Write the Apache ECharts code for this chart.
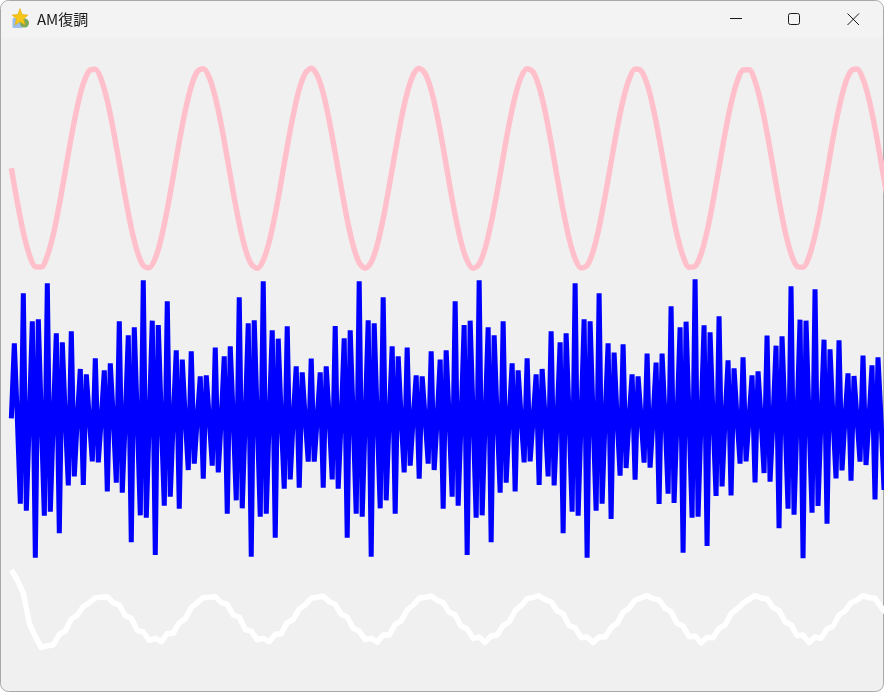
<!DOCTYPE html>
<html>
<head>
<meta charset="utf-8">
<title>AM復調</title>
<style>html,body{margin:0;padding:0;background:#fff;overflow:hidden}#c{width:884px;height:692px}</style>
<script src="https://cdn.jsdelivr.net/npm/echarts@6/dist/echarts.min.js"></script>
</head>
<body>
<div id="c"></div>
<script>
const windowTitle = 'AM復調';

// Carrier signal (pink), one reading every 2nd sample
const pinkStep = 2;
const pinkValues = [
0,-102,-192,-259,-295,-296,-262,-198,-109,-8,94,185,254,293,297,266,203,116,16,-87,-179,-250,-292,-298,-270,-209,-123,-23,80,173,246,290,299,273,214,131,31,
-72,-166,-241,-287,-300,-276,-220,-138,-39,65,160,237,285,300,279,225,144,46,-57,-154,-232,-283,-300,-282,-230,-151,-54,49,147,227,280,300,284,235,158,62,
-42,-140,-222,-277,-300,-287,-240,-164,-70,34,133,216,274,299,289,244,171,77,-26,-126,-211,-271,-299,-291,-249,-177,-84,18,119,205,267,298,293,253,183,92,
-10,-112,-200,-264,-297,-294,-257,-189,-99,3,105,194,260,295,296,261,195,107,5,-97,-188,-256,-294,-297,-265,-201,-114,-13,90,181,252,292,298,268,207,121,20,-83
];

// Modulated signal (blue), one reading per sample
const blueValues = [
0,225,0,-256,375,-277,0,291,-418,297,0,-292,405,-280,0,255,-345,228,0,-201,261,-174,0,148,-200,132,0,-129,180,-132,0,144,-219,165,0,-193,291,-223,0,249,-372,273,0,-291,414,-298,0,
293,-410,280,0,-262,351,-235,0,204,-271,176,0,-155,201,-136,0,126,-181,129,0,-142,212,-162,0,186,-286,216,0,-246,363,-270,0,285,-415,294,0,-295,411,-286,0,264,-358,239,0,-211,276,-183,0,156,-208,
138,0,-130,179,-130,0,138,-208,156,0,-183,277,-211,0,240,-358,264,0,-286,411,-295,0,294,-415,285,0,-270,363,-246,0,216,-286,186,0,-162,212,-142,0,129,-181,126,0,-136,201,-155,0,176,-271,204,0,
-235,351,-262,0,280,-410,293,0,-298,414,-291,0,273,-372,249,0,-223,291,-193,0,165,-219,144,0,-132,180,-129,0,132,-200,148,0,-174,261,-201,0,228,-345,255,0,-280,405,-292,0,297,-418,291,0,-277,375,
-256,0,225,-302,197,0,-172,222,-149,0,132,-184,126,0,-133,194,-148,0,167,-257,194,0,-226,336,-254,0,273,-403,290,0,-298,417,-295,0,279,-383,258,0,-233,306,-204,0,174,-231,150,0,-136,183,-129,0,
129,-192,141,0,-164,248,-190,0,218,-330,246,0,-271,396,-289,0,296,-420,293,0,-283,387,-263,0,236,-316,207,0,-180,234,-156,0,135,-187,127,0,-130,188,-140,0,159,-243,183,0,-215
];

// Demodulated signal (white), one reading every 2nd sample
const whiteStep = 2;
const whiteValues = [
147,117,77,-13,-53,-86,-80,-78,-46,-36,0,12,37,49,64,65,67,49,42,10,2,-34,-39,-64,-58,-68,-44,-42,-11,1,34,49,64,65,67,49,44,12,6,-32,-36,-62,-58,-68,-46,-44,-11,-1,30,
42,62,65,68,52,44,14,6,-28,-36,-62,-58,-70,-48,-48,-16,-6,27,42,62,65,69,56,49,20,12,-22,-30,-58,-54,-70,-51,-48,-20,-9,25,40,61,65,70,58,51,25,16,-20,-26,-56,-54,-70,
-54,-54,-26,-13,20,32,57,63,70,61,57,32,22,-13,-21,-53,-51,-72,-55,-56,-28,-18,16,30,47,59,70,63,60,35,25,-8,-17,-50,-48,-71,-54,-58,-30,-22,12,24,49,57,70,64,62,36,17
];

const withIndex = (vals, step) => vals.map((v, i) => [i * step, v]);
const xAxisFor = i => ({type:'value', gridIndex:i, min:0, max:291, show:false});

const chart = echarts.init(document.getElementById('c'), null, {renderer:'canvas'});
const star = [[20,8.5],[22.2,14.5],[28,15],[23.6,19],[25,25],[20,21.8],[15,25],[16.4,19],[12,15],[17.8,14.5]];

chart.setOption({
  animation:false,
  backgroundColor:'#ffffff',
  title:{text:windowTitle, left:37, top:12, padding:0,
    textStyle:{fontFamily:'"Noto Sans CJK JP","Noto Sans",sans-serif', fontSize:15, fontWeight:'normal', color:'#1a1a1a'}},
  grid:[
    {left:11.33, width:873, top:60, height:220},
    {left:11.33, width:873, top:275, height:290},
    {left:11.33, width:873, top:555, height:137}
  ],
  xAxis:[xAxisFor(0), xAxisFor(1), xAxisFor(2)],
  yAxis:[
    {type:'value', gridIndex:0, min:-335, max:325, show:false},
    {type:'value', gridIndex:1, min:-440, max:430, show:false},
    {type:'value', gridIndex:2, min:-219, max:192, show:false}
  ],
  series:[
    {type:'line', xAxisIndex:0, yAxisIndex:0, data:withIndex(pinkValues,pinkStep), smooth:0.3, showSymbol:false, silent:true,
      lineStyle:{color:'#ffc0cb', width:5.5, cap:'butt', join:'round'}},
    {type:'line', xAxisIndex:1, yAxisIndex:1, data:withIndex(blueValues,1), showSymbol:false, silent:true,
      lineStyle:{color:'#0000ff', width:5, cap:'butt', join:'bevel'}},
    {type:'line', xAxisIndex:2, yAxisIndex:2, data:withIndex(whiteValues,whiteStep), showSymbol:false, silent:true,
      lineStyle:{color:'#ffffff', width:5.5, cap:'butt', join:'round'}}
  ],
  graphic:{elements:[
    {type:'rect', z:-10, silent:true, shape:{x:0.5,y:0.5,width:883,height:691,r:8}, style:{fill:'#f0f0f0', stroke:'#a8a8a8', lineWidth:1}},
    {type:'rect', z:-9, silent:true, shape:{x:1,y:1,width:882,height:37,r:[8,8,0,0]}, style:{fill:'#f3f3f3'}},
    {type:'rect', z:5, silent:true, shape:{x:12.5,y:18,width:10,height:10,r:1}, style:{fill:'#9dbfe8'}},
    {type:'circle', z:5, silent:true, shape:{cx:24.5,cy:23,r:4.5}, style:{fill:'#7ea95a'}},
    {type:'polygon', z:6, silent:true, shape:{points:star}, style:{fill:'#f5c518', stroke:'#e0a800', lineWidth:0.5}},
    {type:'line', z:5, silent:true, shape:{x1:730,y1:18.5,x2:742,y2:18.5}, style:{stroke:'#1a1a1a', lineWidth:1}},
    {type:'rect', z:5, silent:true, shape:{x:788.5,y:13.5,width:11,height:11,r:2}, style:{fill:null, stroke:'#1a1a1a', lineWidth:1}},
    {type:'line', z:5, silent:true, shape:{x1:847.5,y1:13.5,x2:859,y2:25}, style:{stroke:'#1a1a1a', lineWidth:1}},
    {type:'line', z:5, silent:true, shape:{x1:859,y1:13.5,x2:847.5,y2:25}, style:{stroke:'#1a1a1a', lineWidth:1}}
  ]}
});
</script>
</body>
</html>
